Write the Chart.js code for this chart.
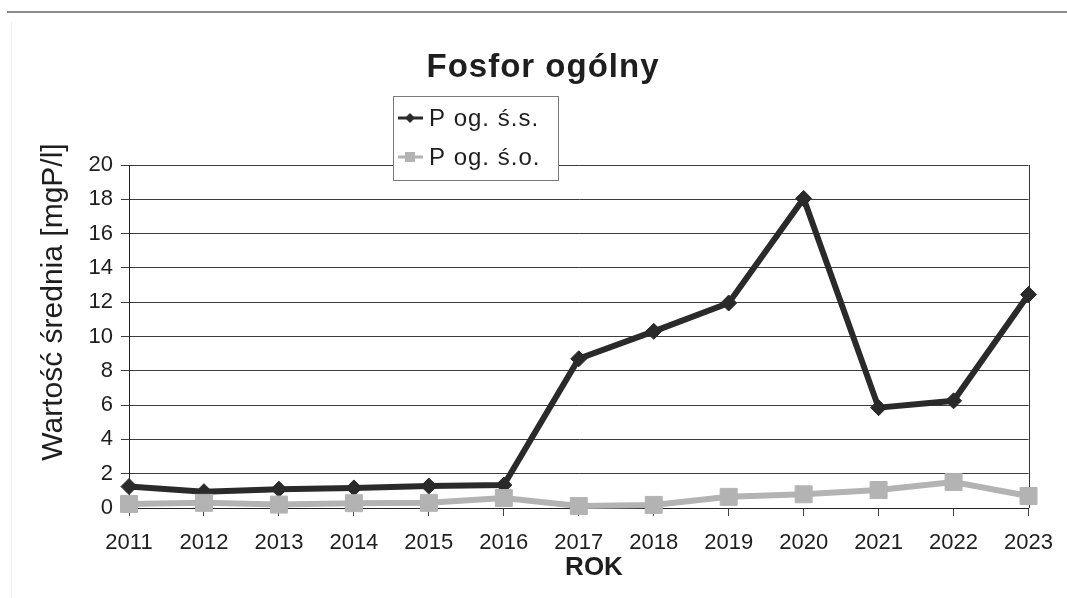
<!DOCTYPE html>
<html>
<head>
<meta charset="utf-8">
<script src="https://cdn.jsdelivr.net/npm/chart.js@4.4.0/dist/chart.umd.min.js"></script>
<style>
html,body{margin:0;padding:0;background:#fff;}
#wrap{width:1067px;height:598px;position:relative;}
</style>
</head>
<body>
<div id="wrap"><canvas id="c" width="1067" height="598"></canvas></div>
<script>
const chartTitle = 'Fosfor ogólny';
const xAxisTitle = 'ROK';
const yAxisTitle = 'Wartość średnia [mgP/l]';
const years = ['2011','2012','2013','2014','2015','2016','2017','2018','2019','2020','2021','2022','2023'];
const seriesNames = ['P og. ś.s.', 'P og. ś.o.'];
const pOgSS = [1.25, 0.95, 1.1, 1.17, 1.28, 1.34, 8.7, 10.3, 11.95, 18.05, 5.85, 6.25, 12.45];
const pOgSO = [0.23, 0.3, 0.2, 0.28, 0.3, 0.58, 0.12, 0.18, 0.65, 0.8, 1.05, 1.52, 0.7];
const yMin = 0, yMax = 20, yStep = 2;

const FONT = '"Liberation Sans", Arial, sans-serif';
const TEXT = '#1e1e1e';

const decor = {
  id: 'decor',
  beforeDraw(chart) {
    const ctx = chart.ctx;
    ctx.save();
    ctx.fillStyle = '#fff';
    ctx.fillRect(0, 0, chart.width, chart.height);
    ctx.strokeStyle = '#8c8c8c';
    ctx.lineWidth = 2;
    ctx.beginPath(); ctx.moveTo(7, 12); ctx.lineTo(chart.width, 12); ctx.stroke();
    ctx.strokeStyle = '#efefef';
    ctx.lineWidth = 1;
    ctx.beginPath(); ctx.moveTo(11.5, 22); ctx.lineTo(11.5, chart.height); ctx.stroke();
    ctx.restore();
  },
  beforeDatasetsDraw(chart) {
    const ctx = chart.ctx, a = chart.chartArea;
    ctx.save();
    ctx.strokeStyle = '#333';
    ctx.lineWidth = 1;
    ctx.beginPath();
    ctx.moveTo(Math.round(a.right) + 0.5, a.top);
    ctx.lineTo(Math.round(a.right) + 0.5, a.bottom);
    ctx.stroke();
    ctx.restore();
  },
  afterDraw(chart) {
    const ctx = chart.ctx;
    ctx.save();
    ctx.fillStyle = TEXT;
    // title
    ctx.font = 'bold 33px ' + FONT;
    ctx.letterSpacing = '1px';
    ctx.textAlign = 'center';
    ctx.textBaseline = 'alphabetic';
    ctx.fillText(chartTitle, 543, 77);
    ctx.letterSpacing = '0px';
    // x axis title
    ctx.font = 'bold 26px ' + FONT;
    ctx.fillText(xAxisTitle, 594, 575);
    // y axis title
    ctx.save();
    ctx.translate(62, 302);
    ctx.rotate(-Math.PI / 2);
    ctx.font = '30px ' + FONT;
    ctx.fillText(yAxisTitle, 0, 0);
    ctx.restore();
    // legend
    const bx = 393, by = 96, bw = 165, bh = 84;
    ctx.fillStyle = '#fff';
    ctx.fillRect(bx, by, bw, bh);
    ctx.strokeStyle = '#7a7a7a';
    ctx.lineWidth = 1;
    ctx.strokeRect(bx + 0.5, by + 0.5, bw, bh);
    chart.data.datasets.forEach((ds, i) => {
      const cy = 118 + i * 39;
      ctx.strokeStyle = ds.borderColor;
      ctx.lineWidth = 3;
      ctx.beginPath(); ctx.moveTo(398, cy); ctx.lineTo(423, cy); ctx.stroke();
      ctx.fillStyle = ds.pointBackgroundColor;
      ctx.beginPath();
      if (ds.pointStyle === 'rectRot') {
        const r = 5;
        ctx.moveTo(410, cy - r); ctx.lineTo(410 + r, cy); ctx.lineTo(410, cy + r); ctx.lineTo(410 - r, cy); ctx.closePath();
      } else {
        ctx.rect(405, cy - 5, 10, 10);
      }
      ctx.fill();
      ctx.fillStyle = TEXT;
      ctx.font = '24px ' + FONT;
      ctx.letterSpacing = '1px';
      ctx.textAlign = 'left';
      ctx.textBaseline = 'middle';
      ctx.fillText(ds.label, 429, cy + 1);
      ctx.letterSpacing = '0px';
    });
    ctx.restore();
  }
};

new Chart(document.getElementById('c'), {
  type: 'line',
  data: {
    labels: years,
    datasets: [
      {
        label: seriesNames[0],
        data: pOgSS,
        borderColor: '#2a2a2a',
        backgroundColor: '#2a2a2a',
        pointBackgroundColor: '#2a2a2a',
        pointBorderColor: '#2a2a2a',
        borderWidth: 6,
        pointStyle: 'rectRot',
        pointRadius: 8,
        pointBorderWidth: 1,
        tension: 0,
        clip: false,
        order: 1
      },
      {
        label: seriesNames[1],
        data: pOgSO,
        borderColor: '#b3b3b3',
        backgroundColor: '#b3b3b3',
        pointBackgroundColor: '#b3b3b3',
        pointBorderColor: '#b3b3b3',
        borderWidth: 6,
        pointStyle: 'rect',
        pointRadius: 12,
        pointBorderWidth: 1,
        tension: 0,
        clip: false,
        order: 0
      }
    ]
  },
  options: {
    responsive: false,
    animation: false,
    events: [],
    layout: { padding: { top: 165, right: 38, bottom: 0, left: 0 } },
    plugins: {
      legend: { display: false },
      title: { display: false },
      tooltip: { enabled: false }
    },
    scales: {
      x: {
        type: 'category',
        offset: false,
        grid: { drawOnChartArea: false, drawTicks: true, tickLength: 8, color: '#444' },
        border: { display: true, color: '#222', width: 1 },
        ticks: { color: TEXT, font: { family: FONT, size: 22 }, padding: 14, maxRotation: 0, autoSkip: false },
        afterFit(scale) { scale.height = 90; }
      },
      y: {
        min: yMin,
        max: yMax,
        grid: { color: '#3c3c3c', lineWidth: 1, tickLength: 8 },
        border: { display: true, color: '#222', width: 1 },
        ticks: { stepSize: yStep, color: TEXT, font: { family: FONT, size: 22 }, padding: 8 },
        afterFit(scale) { scale.width = 129; }
      }
    }
  },
  plugins: [decor]
});
</script>
</body>
</html>
